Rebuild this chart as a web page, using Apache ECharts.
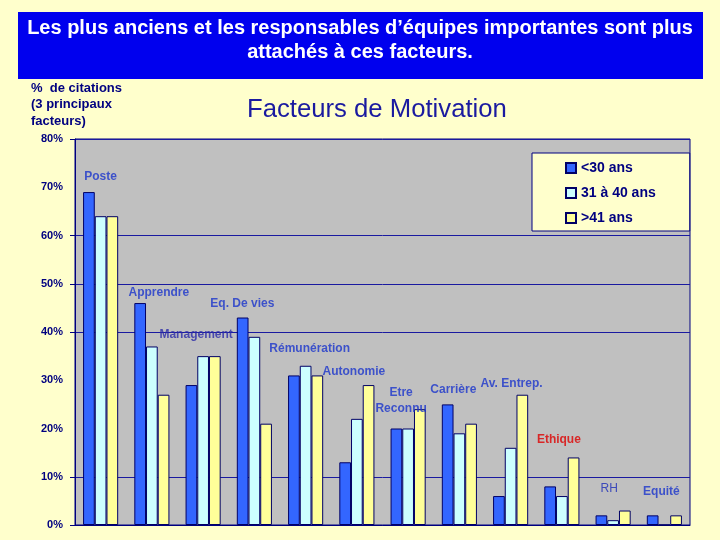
<!DOCTYPE html>
<html>
<head>
<meta charset="utf-8">
<script src="https://cdn.jsdelivr.net/npm/echarts@6/dist/echarts.min.js"></script>
<style>
html,body{margin:0;padding:0;background:#ffffcc;}
#main{width:720px;height:540px;}
</style>
</head>
<body>
<div id="main"></div>
<script>
// ---- data ----
var categories = ['Poste','Apprendre','Management','Eq. De vies','Rémunération','Autonomie','Etre\nReconnu','Carrière','Av. Entrep.','Ethique','RH','Equité'];
var seriesNames = ['<30 ans','31 à 40 ans','>41 ans'];
var under30   = [69, 46, 29, 43, 31, 13, 20, 25, 6, 8, 2, 2];
var from31to40 = [64, 37, 35, 39, 33, 22, 20, 19, 16, 6, 1, 0];
var over41    = [64, 27, 35, 21, 31, 29, 24, 21, 27, 14, 3, 2];
var yTicks = [0, 10, 20, 30, 40, 50, 60, 70, 80];
var gridTicks = [0, 10, 40, 50, 60, 80];

// ---- label placement (values in axis units, offsets in px) ----
var labelY = [72.1, 48.1, 39.4, 45.8, 36.5, 31.7, 25.7, 28.0, 29.2, 17.6, 7.5, 7.0];
var labelDx = [0, 7, -7, -12, 4, -3, -7, -6, 1, -3, -4, -3];

var navy = '#000080';
var labelBlue = '#1a35cc';
var barColors = ['#3366ff', '#ccffff', '#ffff99'];
var values = [under30, from31to40, over41];
var FONT = '"Liberation Sans", Arial, sans-serif';

var chart = echarts.init(document.getElementById('main'));

var series = seriesNames.map(function (n, k) {
  return {
    name: n,
    type: 'bar',
    data: values[k],
    barWidth: 11.7,
    barGap: '0%',
    itemStyle: { color: barColors[k], borderColor: '#000066', borderWidth: 1 },
    emphasis: { disabled: true },
    animation: false
  };
});

series.push({
  name: 'labels',
  type: 'scatter',
  symbolSize: 0,
  silent: true,
  animation: false,
  data: categories.map(function (c, i) {
    var item = {
      value: [i, labelY[i]],
      name: c,
      label: { offset: [labelDx[i], 0] }
    };
    if (c === 'Ethique') item.label.color = '#dd0000';
    if (c === 'Management') item.label.color = '#2a2aa8';
    if (c === 'RH') { item.label.fontWeight = 'normal'; item.label.color = '#1a2ab8'; }
    return item;
  }),
  label: {
    show: true,
    position: 'inside',
    formatter: function (p) { return p.name; },
    fontFamily: FONT,
    fontSize: 12,
    fontWeight: 'bold',
    color: labelBlue,
    lineHeight: 16,
    align: 'center',
    verticalAlign: 'middle'
  }
});

chart.setOption({
  backgroundColor: '#ffffcc',
  textStyle: { fontFamily: FONT },
  graphic: [
    {
      type: 'rect',
      x: 18, y: 12,
      shape: { width: 685, height: 67 },
      style: { fill: '#0000ee' },
      silent: true
    },
    {
      type: 'text',
      x: 360, y: 28,
      style: {
        text: 'Les plus anciens et les responsables d’équipes importantes sont plus',
        fill: '#ffffff',
        font: 'bold 20px ' + FONT,
        align: 'center',
        verticalAlign: 'middle'
      },
      silent: true
    },
    {
      type: 'text',
      x: 360, y: 52,
      style: {
        text: 'attachés à ces facteurs.',
        fill: '#ffffff',
        font: 'bold 20px ' + FONT,
        align: 'center',
        verticalAlign: 'middle'
      },
      silent: true
    }
  ],
  title: [
    {
      text: 'Facteurs de Motivation',
      left: 247, top: 97,
      padding: 0,
      textStyle: { fontSize: 25.7, fontWeight: 'normal', color: '#1a1aa0', fontFamily: FONT }
    },
    {
      text: '%  de citations\n(3 principaux\nfacteurs)',
      left: 31, top: 80,
      padding: 0,
      textStyle: { fontSize: 13, fontWeight: 'bold', color: navy, lineHeight: 16.5, fontFamily: FONT }
    }
  ],
  legend: {
    data: seriesNames,
    orient: 'vertical',
    left: 532, top: 153,
    itemWidth: 10, itemHeight: 10,
    itemGap: 9,
    icon: 'rect',
    padding: [7, 34, 5, 33],
    backgroundColor: '#ffffcc',
    borderColor: navy,
    borderWidth: 1,
    textStyle: { fontSize: 14, fontWeight: 'bold', color: navy, fontFamily: FONT, lineHeight: 16 },
    selectedMode: false
  },
  grid: {
    left: 75, right: 30, top: 139, bottom: 15,
    show: true,
    backgroundColor: '#c0c0c0',
    borderColor: navy,
    borderWidth: 1
  },
  xAxis: {
    type: 'category',
    data: categories,
    axisLabel: { show: false },
    axisTick: { show: false },
    axisLine: { lineStyle: { color: navy, width: 1 } },
    splitLine: { show: false }
  },
  yAxis: {
    type: 'value',
    min: 0, max: 80, interval: 10,
    axisLine: { show: true, lineStyle: { color: navy } },
    axisTick: { show: true, length: 5, lineStyle: { color: navy }, customValues: gridTicks },
    axisLabel: {
      formatter: '{value}%',
      customValues: yTicks,
      fontSize: 11, fontWeight: 'bold', color: navy, margin: 12,
      fontFamily: FONT
    },
    splitLine: { show: true, lineStyle: { color: '#1a1aa0', width: 1 } }
  },
  series: series
});
</script>
</body>
</html>
